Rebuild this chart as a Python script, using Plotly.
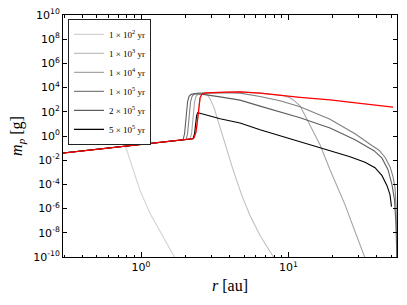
import math
import plotly.graph_objects as go

# ---- data (r in au, m_p in g) ----
labels = ["1 × 10<sup>2</sup> yr", "1 × 10<sup>3</sup> yr", "1 × 10<sup>4</sup> yr",
          "1 × 10<sup>5</sup> yr", "2 × 10<sup>5</sup> yr", "5 × 10<sup>5</sup> yr"]
colors = ["#d2d2d2", "#c0c0c0", "#a6a6a6", "#808080", "#5e5e5e", "#000000"]

r_1e2 = [0.295, 0.527, 0.72, 0.767, 0.791, 0.816, 0.842, 0.911, 0.984, 1.151, 1.346, 1.525, 1.70]
m_1e2 = [0.039, 0.087, 0.13, 0.141, 0.107, 0.0344, 0.0091, 4.36e-4, 3.05e-5, 3.9e-7, 1.3e-8, 9e-10, 8.3e-11]

r_1e3 = [0.295, 1.0, 2.25, 2.29, 2.36, 2.40, 2.44, 2.48, 2.515, 2.575, 2.64, 2.72, 2.806, 2.941,
         3.131, 3.333, 3.548, 3.836, 4.212, 4.85, 5.495, 6.427, 7.283, 8.0]
m_1e3 = [0.039, 0.21, 0.60, 0.72, 2.2, 10.2, 68, 457, 1430, 2520, 3170, 3555, 2775, 1182,
         214, 18.1, 1.03, 0.0502, 1.64e-3, 1.07e-5, 2.65e-7, 5.93e-9, 5.0e-10, 8.3e-11]

r_1e4 = [0.295, 1.0, 2.085, 2.151, 2.202, 2.237, 2.272, 2.308, 2.362, 2.438, 2.555, 2.941, 3.719,
         4.70, 6.427, 9.204, 10.27, 11.11, 12.01, 13.40, 14.95, 16.41, 19.19, 21.41, 24.26, 28.37, 33.17]
m_1e4 = [0.039, 0.21, 0.54, 0.56, 1.53, 10.2, 100, 668, 1897, 2940, 3356, 3690, 4200,
         4430, 3485, 2209, 1429, 735, 313, 21.9, 1.85, 0.19, 1.64e-3, 6.5e-5, 2.14e-6, 1.27e-8, 8.3e-11]

r_1e5 = [0.295, 1.0, 2.021, 2.069, 2.102, 2.135, 2.168, 2.220, 2.290, 2.438, 2.941, 3.719, 4.70,
         6.427, 8.78, 12.01, 19.19, 28.37, 35.87, 41.29, 45.35, 49.03, 51.38, 53.01, 53.84, 54.27, 54.69]
m_1e5 = [0.039, 0.21, 0.519, 1.53, 10.2, 100, 668, 1897, 2940, 3485, 3690, 3760, 3485,
         1828, 808, 258, 24.1, 1.53, 0.209, 0.0668, 0.0177, 2.91e-3, 4.36e-4, 5.4e-5, 2.14e-6, 4.8e-8, 4.2e-11]

r_2e5 = [0.295, 1.0, 1.928, 1.974, 2.005, 2.037, 2.069, 2.118, 2.185, 2.326, 2.636, 3.439, 4.70,
         6.427, 12.01, 19.19, 28.37, 38.18, 43.27, 47.53, 50.58, 52.56, 53.84, 54.44, 54.69]
m_2e5 = [0.039, 0.21, 0.487, 1.53, 10.2, 100, 668, 1897, 2775, 3170, 2775, 1726, 920,
         295, 32.0, 4.53, 0.491, 0.0608, 0.0146, 1.64e-3, 9.5e-5, 5.5e-6, 4.8e-8, 2.35e-10, 4.2e-11]

r_5e5 = [0.295, 1.0, 2.254, 2.308, 2.344, 2.382, 2.419, 2.476, 3.439, 4.70, 6.427, 10.76,
         19.19, 26.24, 33.17, 38.78, 43.27, 46.79, 49.03, 50.19]
m_5e5 = [0.039, 0.21, 0.60, 1.53, 10.2, 46.8, 82.8, 78.2, 26.5, 11.7, 3.28, 0.491,
         0.0552, 0.0195, 6.84e-3, 2.41e-3, 5.27e-4, 7.9e-5, 1.43e-5, 1.46e-6]

r_red = [0.295, 1.0, 2.25, 2.29, 2.36, 2.40, 2.44, 2.48, 2.515, 2.575, 2.64, 2.76, 2.94,
         3.72, 4.70, 6.43, 12.0, 19.2, 30.7, 51.4]
m_red = [0.039, 0.21, 0.60, 0.72, 2.2, 10.2, 68, 457, 1430, 2520, 3170, 3690, 3910,
         4220, 4460, 3480, 1570, 977, 502, 244]

series_r = [r_1e2, r_1e3, r_1e4, r_1e5, r_2e5, r_5e5]
series_m = [m_1e2, m_1e3, m_1e4, m_1e5, m_2e5, m_5e5]

x_range = [0.295, 54.7]
x_ticks = [1, 10]
x_ticktext = ["10<sup>0</sup>", "10<sup>1</sup>"]
x_minor = [0.3, 0.4, 0.5, 0.6, 0.7, 0.8, 0.9, 2, 3, 4, 5, 6, 7, 8, 9, 20, 30, 40, 50]
y_exponents = [-10, -8, -6, -4, -2, 0, 2, 4, 6, 8, 10]
y_ticks = [10.0 ** e for e in y_exponents]
y_ticktext = ["10<sup>%d</sup>" % e for e in y_exponents]

fig = go.Figure()
for rr, mm, lab, col in zip(series_r, series_m, labels, colors):
    fig.add_trace(go.Scatter(x=rr, y=mm, mode="lines", name=lab,
                             line=dict(color=col, width=1.1)))
fig.add_trace(go.Scatter(x=r_red, y=m_red, mode="lines", showlegend=False,
                         line=dict(color="#ff0000", width=1.3)))

axis_common = dict(type="log", showline=True, linecolor="black", linewidth=1,
                   mirror="ticks", ticks="inside", tickcolor="black", showgrid=False,
                   zeroline=False, automargin=False,
                   tickfont=dict(family="DejaVu Sans", size=11, color="black"))

fig.update_xaxes(**axis_common,
                 range=[math.log10(x_range[0]), math.log10(x_range[1])],
                 tickvals=x_ticks, ticktext=x_ticktext, ticklen=5,
                 minor=dict(tickvals=x_minor, ticks="inside", ticklen=2.5, tickcolor="black"),
                 title=dict(text="<i>r</i> [au]", standoff=6,
                            font=dict(family="Liberation Serif", size=16, color="black")))
fig.update_yaxes(**axis_common,
                 range=[-10.001, 10.001],
                 tickvals=y_ticks, ticktext=y_ticktext, ticklen=4,
                 title=dict(text="<i>m</i><sub><i>p</i></sub> [g]", standoff=6,
                            font=dict(family="Liberation Serif", size=16, color="black")))

fig.update_layout(
    template="none",
    width=407, height=305,
    margin=dict(l=63, r=10, t=15, b=48, pad=0, autoexpand=False),
    plot_bgcolor="white", paper_bgcolor="white",
    showlegend=True,
    legend=dict(x=0.015, y=0.984, xanchor="left", yanchor="top",
                bgcolor="white", bordercolor="#222222", borderwidth=1,
                font=dict(family="Liberation Serif", size=9, color="black"),
                itemwidth=30),
)

fig.write_html("out.html", config={"displayModeBar": False},
               post_script="document.body.style.margin='0px';document.body.style.overflow='hidden';")
